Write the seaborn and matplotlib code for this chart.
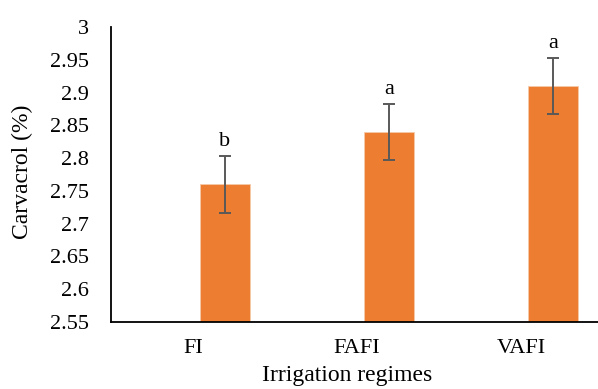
import numpy as np
import pandas as pd
import seaborn as sns
import matplotlib.pyplot as plt
from matplotlib.ticker import FuncFormatter, MultipleLocator

# data
regimes = ['FI', 'FAFI', 'VAFI']
carvacrol = [2.76, 2.84, 2.91]
sd = [0.043, 0.043, 0.043]
letters = ['b', 'a', 'a']

df = pd.DataFrame({'regime': regimes, 'carvacrol': carvacrol})

sns.set_style('white')
plt.rcParams['font.family'] = ['Liberation Serif', 'DejaVu Serif']
plt.rcParams['text.color'] = 'black'
plt.rcParams['axes.labelcolor'] = 'black'
plt.rcParams['xtick.color'] = 'black'
plt.rcParams['ytick.color'] = 'black'

fig = plt.figure(figsize=(5.98, 3.89), dpi=100)
ax = fig.add_axes([111/598, 1 - 322/389, 487/598, 295/389])

bar_color = '#ED7D31'
shift = 0.195  # bars sit right of the category centre, as in the original
sns.barplot(data=df, x='regime', y='carvacrol', color=bar_color, width=0.3,
            saturation=1, edgecolor='#F6C9A8', linewidth=0.6, ax=ax)
for p in ax.patches:
    p.set_x(p.get_x() + shift)

xpos = np.arange(len(regimes)) + shift
ax.errorbar(xpos, carvacrol, yerr=sd, fmt='none', ecolor='#595959',
            elinewidth=1.4, capsize=4.5, capthick=1.4)

for x, m, e, t in zip(xpos, carvacrol, sd, letters):
    ax.annotate(t, (x, m + e), xytext=(0, 7), textcoords='offset points',
                ha='center', va='baseline', fontsize=16, color='black')

ax.set_ylim(2.55, 3.0)
ax.set_xlim(-0.5, 2.47)
ax.yaxis.set_major_locator(MultipleLocator(0.05))
ax.yaxis.set_major_formatter(FuncFormatter(lambda v, _: f'{v:g}'))

ax.tick_params(axis='y', length=0, pad=16, labelsize=16)
ax.tick_params(axis='x', length=0, pad=12, labelsize=16)

ax.set_xlabel('Irrigation regimes', fontsize=17)
ax.set_ylabel('Carvacrol (%)', fontsize=17)
ax.xaxis.set_label_coords(0.485, -0.147)
ax.yaxis.set_label_coords(-0.16, 0.51)

sns.despine(ax=ax)
for s in ['left', 'bottom']:
    ax.spines[s].set_color('black')
    ax.spines[s].set_linewidth(1.3)

fig.savefig('out.png', dpi=100)
